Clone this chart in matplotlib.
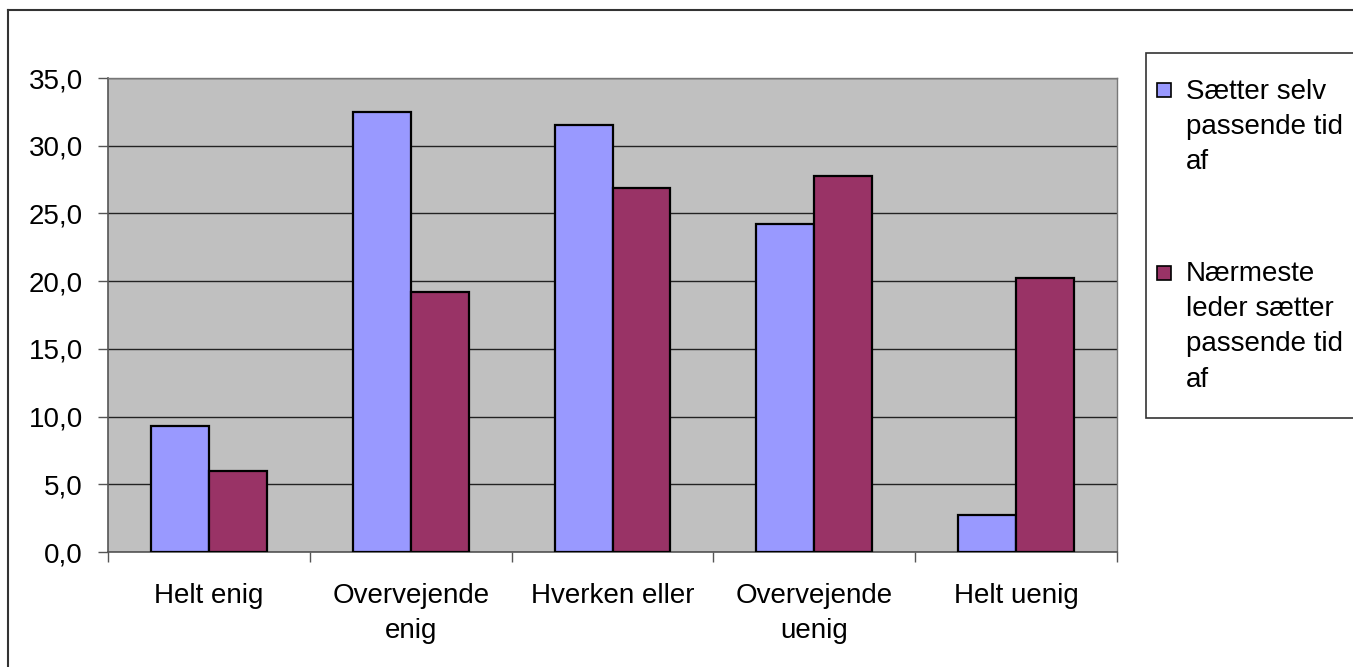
import matplotlib.pyplot as plt
import numpy as np
from matplotlib.patches import Rectangle
from matplotlib.lines import Line2D
from matplotlib.ticker import FuncFormatter, MultipleLocator

plt.rcParams['font.family'] = ['Liberation Sans', 'DejaVu Sans']

categories = ['Helt enig', 'Overvejende\nenig', 'Hverken eller', 'Overvejende\nuenig', 'Helt uenig']
series_names = ['Sætter selv\npassende tid\naf', 'Nærmeste\nleder sætter\npassende tid\naf']
saetter_selv = [9.3, 32.5, 31.5, 24.2, 2.7]
naermeste_leder = [6.0, 19.2, 26.9, 27.8, 20.2]
colors = ['#9999FF', '#993366']

W, H = 1353, 667
fig = plt.figure(figsize=(W / 100, H / 100), dpi=100)
ax = fig.add_axes([108 / W, 1 - 552 / H, (1117 - 108) / W, (552 - 78) / H])
ax.set_facecolor('#C0C0C0')

x = np.arange(len(categories))
bw = 0.287
ax.bar(x - bw / 2, saetter_selv, bw, color=colors[0], edgecolor='black', linewidth=1.6, zorder=3)
ax.bar(x + bw / 2, naermeste_leder, bw, color=colors[1], edgecolor='black', linewidth=1.6, zorder=3)

ax.set_xlim(-0.5, len(categories) - 0.5)
ax.set_ylim(0, 35)
ax.yaxis.set_major_locator(MultipleLocator(5))
ax.yaxis.set_major_formatter(FuncFormatter(lambda v, p: f'{v:.1f}'.replace('.', ',')))
ax.grid(axis='y', color='#222222', linewidth=1.0, zorder=1)
ax.set_axisbelow(True)

ax.set_xticks(x)
ax.set_xticklabels(categories, fontsize=20, linespacing=1.45, va='top')
ax.set_xticks(np.arange(-0.5, len(categories)), minor=True)
ax.tick_params(axis='x', which='major', length=0, pad=22)
ax.tick_params(axis='x', which='minor', length=7, width=1, color='#555555', direction='out')
ax.tick_params(axis='y', length=7, width=1, color='#555555', labelsize=20, pad=11)

for side in ['top', 'right']:
    ax.spines[side].set_color('#777777')
    ax.spines[side].set_linewidth(1)
for side in ['left', 'bottom']:
    ax.spines[side].set_color('#555555')
    ax.spines[side].set_linewidth(1.2)

# outer chart frame (left and top edges visible)
fig.add_artist(Line2D([8 / W, 8 / W], [0, 1 - 10 / H], transform=fig.transFigure, color='#333333', lw=1.5))
fig.add_artist(Line2D([8 / W, 1], [1 - 10 / H, 1 - 10 / H], transform=fig.transFigure, color='#333333', lw=1.5))

# legend box
fig.add_artist(Rectangle((1146 / W, 1 - 418 / H), (1400 - 1146) / W, (418 - 53) / H,
                         transform=fig.transFigure, facecolor='white', edgecolor='#333333', lw=1.2))
entry_tops = [79, 261]
square_tops = [83, 266]
for name, col, top, sq in zip(series_names, colors, entry_tops, square_tops):
    fig.add_artist(Rectangle((1157 / W, 1 - (sq + 14) / H), 14 / W, 14 / H,
                             transform=fig.transFigure, facecolor=col, edgecolor='black', lw=1.2))
    fig.text(1186 / W, 1 - top / H, name, fontsize=20, va='top', ha='left', linespacing=1.46)

fig.savefig('out.png', dpi=100)
